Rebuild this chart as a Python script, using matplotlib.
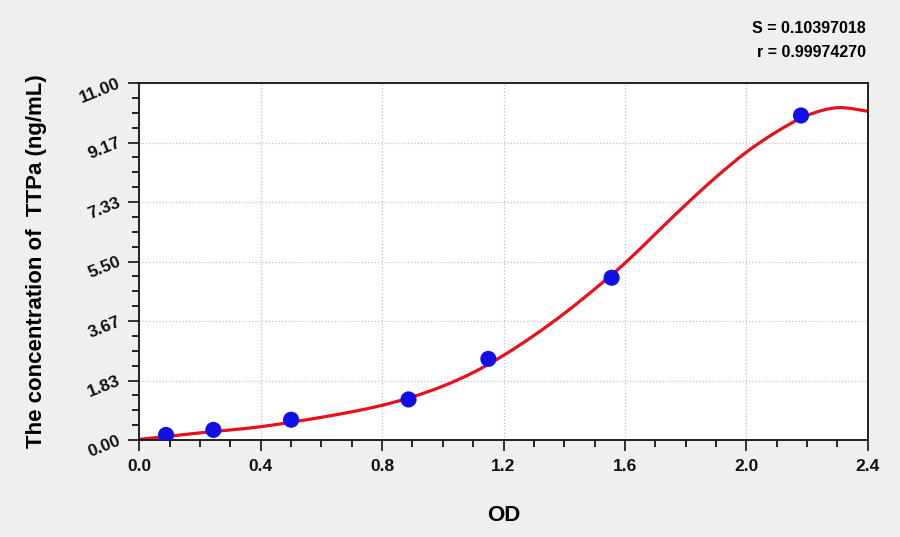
import numpy as np
import matplotlib
matplotlib.use('Agg')
import matplotlib.pyplot as plt
from matplotlib.path import Path
from matplotlib.patches import PathPatch
from matplotlib.ticker import MultipleLocator, FixedLocator

plt.rcParams['font.family'] = ['Liberation Sans', 'DejaVu Sans']
plt.rcParams['font.weight'] = 'bold'

# standard points
od = [0.088, 0.244, 0.500, 0.887, 1.150, 1.556, 2.180]
conc = [0.156, 0.312, 0.625, 1.25, 2.5, 5.0, 10.0]

# fitted curve, every 0.1 OD
curve_od = [0.0, 0.1, 0.2, 0.3, 0.4, 0.5, 0.6, 0.7, 0.8, 0.9, 1.0, 1.1, 1.2,
            1.3, 1.4, 1.5, 1.6, 1.7, 1.8, 1.9, 2.0, 2.1, 2.2, 2.3, 2.4]
curve_conc = [0.02, 0.12, 0.22, 0.31, 0.41, 0.55, 0.70, 0.87, 1.07, 1.33, 1.66, 2.08, 2.61,
              3.22, 3.90, 4.65, 5.45, 6.35, 7.25, 8.10, 8.87, 9.50, 10.00, 10.24, 10.13]

y_labels = ['0.00', '1.83', '3.67', '5.50', '7.33', '9.17', '11.00']
x_ticks = [0.0, 0.4, 0.8, 1.2, 1.6, 2.0, 2.4]
stats = ['S = 0.10397018', 'r = 0.99974270']


def smooth_path(xs, ys):
    # Catmull-Rom through the read points, drawn as cubic Bezier segments
    p = np.column_stack([xs, ys])
    verts = [p[0]]
    codes = [Path.MOVETO]
    for i in range(len(p) - 1):
        p0 = p[max(i - 1, 0)]
        p1, p2 = p[i], p[i + 1]
        p3 = p[min(i + 2, len(p) - 1)]
        verts += [p1 + (p2 - p0) / 6, p2 - (p3 - p1) / 6, p2]
        codes += [Path.CURVE4] * 3
    return Path(verts, codes)


fig = plt.figure(figsize=(9, 5.37), dpi=100, facecolor='#efefef')
ax = fig.add_axes([0.1548, 0.1806, 0.8094, 0.6648])
ax.set_facecolor('white')

ax.add_patch(PathPatch(smooth_path(curve_od, curve_conc), facecolor='none',
                       edgecolor='#e8101a', lw=2.3, zorder=2))
ax.scatter(od, conc, s=135, color='#1010e6', zorder=3, edgecolors='none')

ax.set_xlim(0, 2.4)
ax.set_ylim(0, 11)
ax.set_xticks(x_ticks)
ax.set_xticklabels([f'{v:.1f}' for v in x_ticks])
ax.xaxis.set_minor_locator(MultipleLocator(0.1))
ax.set_yticks([11 * i / 6 for i in range(7)])
ax.set_yticklabels(y_labels, rotation=22, va='center', ha='right', rotation_mode='anchor')
ax.yaxis.set_minor_locator(FixedLocator([11 * i / 24 for i in range(25)]))

ax.tick_params(axis='both', which='major', length=8, width=1.2, labelsize=12.5, colors='#111111')
ax.tick_params(axis='both', which='minor', length=5, width=1.2)
ax.tick_params(axis='x', pad=6)
ax.tick_params(axis='y', pad=6)
ax.grid(True, which='major', color='#c0c0c0', ls=':', lw=0.9)
ax.set_axisbelow(True)
for sp in ax.spines.values():
    sp.set_linewidth(1.3)
    sp.set_color('#111111')

ax.set_xlabel('OD', fontsize=16, fontweight='bold', labelpad=22)
ax.set_ylabel('The concentration of  TTPa (ng/mL)', fontsize=16, fontweight='bold', labelpad=22)

fig.text(0.962, 0.947, stats[0], ha='right', va='center', fontsize=11.5, fontweight='bold')
fig.text(0.962, 0.903, stats[1], ha='right', va='center', fontsize=11.5, fontweight='bold')

fig.savefig('out.png', dpi=100, facecolor=fig.get_facecolor())
